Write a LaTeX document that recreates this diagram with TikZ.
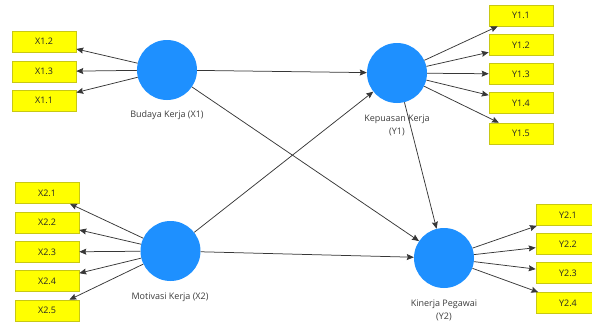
\documentclass[tikz,border=0pt]{standalone}
\usepackage{fontspec}
\setmainfont{Open Sans}
\usetikzlibrary{arrows.meta}
\definecolor{circblue}{RGB}{30,144,255}
\definecolor{boxyellow}{RGB}{255,255,0}
\definecolor{boxedge}{RGB}{200,200,20}
\definecolor{linegray}{RGB}{55,55,55}
\definecolor{lblgray}{RGB}{60,60,60}
\tikzset{
  latent/.style={circle,fill=circblue,draw=none,minimum size=60pt,inner sep=0pt},
  indic/.style={rectangle,fill=boxyellow,draw=boxedge,line width=0.6pt,minimum width=64pt,minimum height=21pt,inner sep=0pt,font=\fontsize{9}{11}\selectfont,text=black!85},
  lbl/.style={font=\fontsize{9}{12.5}\selectfont,text=lblgray,align=center,inner sep=0pt},
  conn/.style={draw=linegray,line width=0.75pt,-{Stealth[length=7pt,width=6pt,inset=1pt]}}
}
\begin{document}
\begin{tikzpicture}[x=1pt,y=-1pt]
\useasboundingbox (0,0) rectangle (592,322);
\clip (0,0) rectangle (592,322);
% latent variables
\node[latent] (X1) at (167,70) {};
\node[latent] (Y1) at (397,73) {};
\node[latent] (X2) at (170.5,251) {};
\node[latent] (Y2) at (444,258) {};
% labels
\node[lbl] (X1l) at (167,115) {Budaya Kerja (X1)};
\node[lbl] (Y1l) at (397,125.5) {Kepuasan Kerja\\(Y1)};
\node[lbl] (X2l) at (170,297) {Motivasi Kerja (X2)};
\node[lbl] (Y2l) at (444,310.5) {Kinerja Pegawai\\(Y2)};
% X1 indicators
\node[indic] (X12) at (44,41.5) {X1.2};
\node[indic] (X13) at (44,71.5) {X1.3};
\node[indic] (X11) at (44,100.5) {X1.1};
% X2 indicators
\node[indic] (X21) at (47,193) {X2.1};
\node[indic] (X22) at (47,222.5) {X2.2};
\node[indic] (X23) at (47,252) {X2.3};
\node[indic] (X24) at (47,281) {X2.4};
\node[indic] (X25) at (47,310.5) {X2.5};
% Y1 indicators
\node[indic] (Y11) at (521,15.5) {Y1.1};
\node[indic] (Y12) at (521,45) {Y1.2};
\node[indic] (Y13) at (521,74) {Y1.3};
\node[indic] (Y14) at (521,103) {Y1.4};
\node[indic] (Y15) at (521,133.5) {Y1.5};
% Y2 indicators
\node[indic] (Y21) at (568,215) {Y2.1};
\node[indic] (Y22) at (568,244) {Y2.2};
\node[indic] (Y23) at (568,273) {Y2.3};
\node[indic] (Y24) at (568,303) {Y2.4};
% structural paths
\draw[conn] (X1) -- (Y1);
\draw[conn] (X1) -- (Y2);
\draw[conn] (X2) -- (Y1);
\draw[conn] (X2) -- (Y2);
\draw[conn] (Y1) -- (Y2);
% loadings
\foreach \t in {X12,X13,X11} \draw[conn] (X1) -- (\t);
\foreach \t in {X21,X22,X23,X24,X25} \draw[conn] (X2) -- (\t);
\foreach \t in {Y11,Y12,Y13,Y14,Y15} \draw[conn] (Y1) -- (\t);
\foreach \t in {Y21,Y22,Y23,Y24} \draw[conn] (Y2) -- (\t);
\end{tikzpicture}
\end{document}
